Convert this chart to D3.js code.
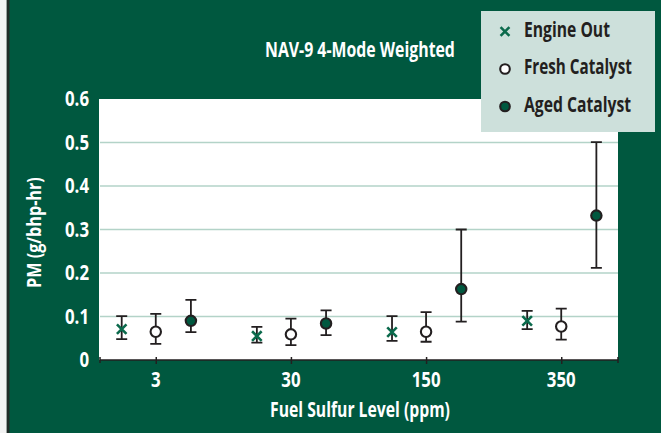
<!DOCTYPE html>
<html>
<head>
<meta charset="utf-8">
<script src="https://cdn.jsdelivr.net/npm/d3@7"></script>
<style>
  html, body { margin: 0; padding: 0; background: #fff; }
  svg { display: block; }
  text { font-family: "Open Sans", "Noto Sans", "DejaVu Sans", sans-serif; font-weight: 700; }
</style>
</head>
<body>
<div id="chart"></div>
<script>
// Data
var categories = ["3", "30", "150", "350"];
var seriesNames = ["Engine Out", "Fresh Catalyst", "Aged Catalyst"];

var engineOut     = [0.071, 0.055, 0.064, 0.090];
var engineOutLow  = [0.048, 0.040, 0.044, 0.071];
var engineOutHigh = [0.101, 0.076, 0.101, 0.113];

var freshCat     = [0.065, 0.059, 0.065, 0.077];
var freshCatLow  = [0.037, 0.034, 0.042, 0.047];
var freshCatHigh = [0.106, 0.095, 0.110, 0.118];

var agedCat     = [0.090, 0.084, 0.163, 0.332];
var agedCatLow  = [0.064, 0.057, 0.088, 0.212];
var agedCatHigh = [0.138, 0.114, 0.300, 0.501];

var yTicks = [0, 0.1, 0.2, 0.3, 0.4, 0.5, 0.6];

// Sizing
var width = 661;
var height = 433;
var margin = { left: 99, right: 43, top: 99, bottom: 73 };

var green = "#00583f";
var dark = "#231f20";
var numScale = 0.82;   // narrow look for the numbers
var fs = 20.5;

var svg = d3.select("#chart").append("svg")
    .attr("width", width)
    .attr("height", height);

// squeeze a label to a given width (the original uses a condensed face)
function fitText(sel, x0, y0, w, rot) {
    var natural = sel.node().getComputedTextLength();
    var sx = w / natural;
    sel.attr("transform", `translate(${x0},${y0})` + (rot ? ` rotate(${rot})` : "") + ` scale(${sx},1)`);
}

// background + left border
svg.append("rect").attr("width", width).attr("height", height).attr("fill", green);
svg.append("rect").attr("x", 0).attr("y", 0).attr("width", 6).attr("height", height).attr("fill", "#f2f2f2");
svg.append("rect").attr("x", 6).attr("y", 0).attr("width", 1).attr("height", height).attr("fill", "#9aa39f");
svg.append("rect").attr("x", 7).attr("y", 0).attr("width", 2.5).attr("height", height).attr("fill", "#1f2a26");

// Scales
var x = d3.scalePoint()
    .domain(categories)
    .range([margin.left, width - margin.right])
    .padding(0.42);

var y = d3.scaleLinear()
    .domain([0, 0.6])
    .range([height - margin.bottom, margin.top]);

// plot area
svg.append("rect")
    .attr("x", margin.left)
    .attr("y", margin.top)
    .attr("width", width - margin.left - margin.right)
    .attr("height", y(0) - margin.top)
    .attr("fill", "#fff");

// grid lines
svg.append("g")
    .selectAll("line")
    .data(yTicks.filter(d => d > 0 && d < 0.6))
    .enter()
    .append("line")
    .attr("x1", margin.left + 1)
    .attr("x2", width - margin.right)
    .attr("y1", d => y(d))
    .attr("y2", d => y(d))
    .attr("stroke", "#b3d3c8")
    .attr("stroke-width", 1.5);

// y tick labels
svg.append("g")
    .selectAll("text")
    .data(yTicks)
    .enter()
    .append("text")
    .attr("transform", d => `translate(89,${y(d) + 7}) scale(${numScale},1)`)
    .attr("text-anchor", "end")
    .attr("fill", "#fff")
    .attr("font-size", fs)
    .text(d => d === 0 ? "0" : d3.format(".1f")(d));

// x axis
var xAxis = d3.axisBottom(x).tickSize(4).tickFormat("");
var gx = svg.append("g")
    .attr("transform", `translate(0,${y(0)})`)
    .call(xAxis);
gx.select(".domain").attr("stroke", dark).attr("stroke-width", 1.5)
    .attr("d", `M${margin.left + 1},-3V3V0H${width - margin.right}V-3V3`);
gx.selectAll(".tick line").attr("stroke", dark).attr("stroke-width", 1.5).attr("y1", -3).attr("y2", 4);

svg.append("g")
    .selectAll("text")
    .data(categories)
    .enter()
    .append("text")
    .attr("transform", d => `translate(${x(d)},386.5) scale(${numScale},1)`)
    .attr("text-anchor", "middle")
    .attr("fill", "#fff")
    .attr("font-size", fs)
    .text(d => d);

// axis titles
var xTitle = svg.append("text")
    .attr("fill", "#fff")
    .attr("font-size", fs)
    .text("Fuel Sulfur Level (ppm)");
fitText(xTitle, 270, 417, 180);

var yTitle = svg.append("text")
    .attr("fill", "#fff")
    .attr("font-size", fs - 0.5)
    .text("PM (g/bhp-hr)");
fitText(yTitle, 41, 288, 111, -90);

// title
var title = svg.append("text")
    .attr("fill", "#fff")
    .attr("font-size", fs)
    .text("NAV-9 4-Mode Weighted");
fitText(title, 265, 57, 190);

// Series
var step = x.step();
var series = [
    { name: seriesNames[0], v: engineOut, lo: engineOutLow, hi: engineOutHigh, off: -0.252 * step, type: "x", w: 86 },
    { name: seriesNames[1], v: freshCat, lo: freshCatLow, hi: freshCatHigh, off: 0, type: "open", w: 108 },
    { name: seriesNames[2], v: agedCat, lo: agedCatLow, hi: agedCatHigh, off: 0.26 * step, type: "filled", w: 107 }
];

function drawMarker(g, type, cx, cy, size) {
    if (type === "x") {
        var s = size * 0.92;
        g.append("path")
            .attr("d", `M${cx - s},${cy - s}L${cx + s},${cy + s}M${cx - s},${cy + s}L${cx + s},${cy - s}`)
            .attr("stroke", "#0b6a4c")
            .attr("stroke-width", 2.6);
    } else {
        g.append("circle")
            .attr("cx", cx)
            .attr("cy", cy)
            .attr("r", size)
            .attr("fill", type === "open" ? "#fff" : green)
            .attr("stroke", dark)
            .attr("stroke-width", 2.1);
    }
}

series.forEach(function (s) {
    var g = svg.append("g");
    categories.forEach(function (c, i) {
        var cx = x(c) + s.off;
        var cap = 5.5;
        // error bar
        g.append("path")
            .attr("d", `M${cx},${y(s.lo[i])}V${y(s.hi[i])}M${cx - cap},${y(s.lo[i])}H${cx + cap}M${cx - cap},${y(s.hi[i])}H${cx + cap}`)
            .attr("stroke", dark)
            .attr("stroke-width", 1.8)
            .attr("fill", "none");
        drawMarker(g, s.type, cx, y(s.v[i]), 5.2);
    });
});

// Legend
var legend = svg.append("g");
legend.append("rect")
    .attr("x", 481)
    .attr("y", 11)
    .attr("width", 174)
    .attr("height", 121)
    .attr("fill", "#cde0db");

series.forEach(function (s, i) {
    var base = 36.5 + i * 37.5;
    drawMarker(legend, s.type, 505, base - 5, 4.8);
    var t = legend.append("text")
        .attr("fill", dark)
        .attr("font-size", fs)
        .text(s.name);
    fitText(t, 524, base, s.w);
});
</script>
</body>
</html>
